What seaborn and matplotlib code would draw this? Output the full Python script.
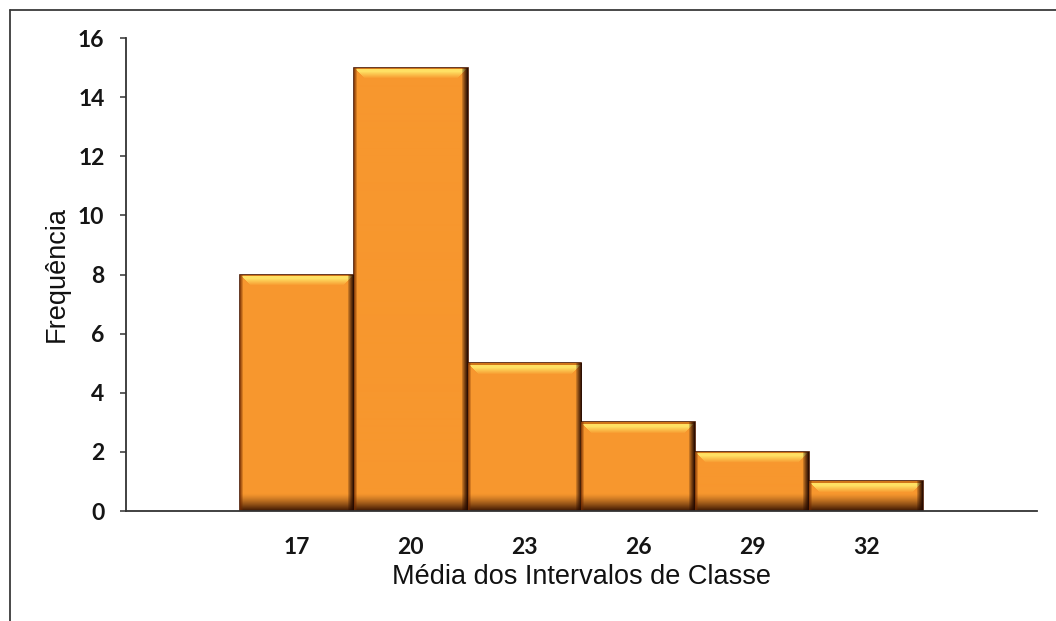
import numpy as np
import pandas as pd
import matplotlib
matplotlib.use("Agg")
import matplotlib.pyplot as plt
from matplotlib.lines import Line2D
import seaborn as sns

# Class midpoints and their frequencies
class_mids = [17, 20, 23, 26, 29, 32]
frequencies = [8, 15, 5, 3, 2, 1]
y_ticks = [0, 2, 4, 6, 8, 10, 12, 14, 16]
x_label = "Média dos Intervalos de Classe"
y_label = "Frequência"

df = pd.DataFrame({"mid": class_mids, "freq": frequencies})

sns.set_theme(style="white")
plt.rcParams["font.family"] = ["Liberation Sans", "DejaVu Sans"]

fig = plt.figure(figsize=(10.56, 6.21), dpi=100)
ax = fig.add_axes([0.1193, 0.1771, 0.8627, 0.7617])

half = (class_mids[1] - class_mids[0]) / 2
edges = [m - half for m in class_mids] + [class_mids[-1] + half]
sns.histplot(data=df, x="mid", weights="freq", bins=edges, ax=ax,
             color="#F7972E", alpha=1.0, edgecolor="#4A1800", linewidth=1.2)

ax.set_xlim(12.5, 36.5)
ax.set_ylim(0, 16)
ax.set_xticks(class_mids)
ax.set_xticklabels([str(m) for m in class_mids])
ax.set_yticks(y_ticks)
ax.set_yticklabels([str(t) for t in y_ticks])

for lab in ax.get_xticklabels() + ax.get_yticklabels():
    lab.set_fontfamily(["Lato", "DejaVu Sans"])
    lab.set_fontweight("bold")
    lab.set_fontsize(16.5)
    lab.set_color("#151515")

ax.tick_params(axis="y", direction="out", length=4.5, width=1.1, color="#333333",
               pad=11, left=True)
ax.tick_params(axis="x", length=0, pad=19)

for side in ["top", "right"]:
    ax.spines[side].set_visible(False)
for side in ["left", "bottom"]:
    ax.spines[side].set_color("#333333")
    ax.spines[side].set_linewidth(1.3)

ax.set_xlabel(x_label, fontsize=19.5, color="#111111")
ax.set_ylabel(y_label, fontsize=19.5, color="#111111")
ax.xaxis.set_label_coords(0.4995, -0.113)
ax.yaxis.set_label_coords(-0.0615, 0.501)


def bevel_image(wpx, hpx):
    """Shaded RGB texture giving a bar a raised, glossy look."""
    base = np.array([247, 151, 46]) / 255.0
    img = np.ones((hpx, wpx, 3)) * base
    rows = np.arange(hpx)[:, None]
    cols = np.arange(wpx)[None, :]

    # bottom shadow
    shade_h = 18
    t = np.clip((rows - (hpx - shade_h)) / shade_h, 0, 1) ** 1.3
    dark = np.array([50, 15, 0]) / 255.0
    img = img * (1 - t[..., None]) + dark * t[..., None]

    # glossy top band with bevelled corners
    hl = np.array([255, 225, 100]) / 255.0
    band = np.where(rows < 2, 0.0, np.clip(1 - (rows - 4) / 7.0, 0, 1))
    band = band * ((cols >= rows) & (cols < wpx - rows))
    top_edge = np.array([200, 110, 20]) / 255.0
    img = img * (1 - band[..., None]) + hl * band[..., None]
    edge_mask = (rows < 2) * np.ones_like(cols)
    img = img * (1 - 0.8 * edge_mask[..., None]) + top_edge * 0.8 * edge_mask[..., None]

    # left edge
    le = np.clip(1 - cols / 3.0, 0, 1) * 0.75 * np.ones_like(rows)
    ldark = np.array([110, 40, 0]) / 255.0
    img = img * (1 - le[..., None]) + ldark * le[..., None]

    # right edge
    re = np.clip(1 - (wpx - 1 - cols) / 6.0, 0, 1) ** 0.8 * 0.95 * np.ones_like(rows)
    rdark = np.array([35, 8, 0]) / 255.0
    img = img * (1 - re[..., None]) + rdark * re[..., None]
    return np.clip(img, 0, 1)


fig.canvas.draw()
for patch in list(ax.patches):
    x0 = patch.get_x()
    w = patch.get_width()
    h = patch.get_height()
    if h <= 0:
        continue
    (px0, py0), (px1, py1) = ax.transData.transform([(x0, 0), (x0 + w, h)])
    wpx = max(int(round(px1 - px0)), 4)
    hpx = max(int(round(py1 - py0)), 4)
    tex = bevel_image(wpx, hpx)
    im = ax.imshow(tex, extent=[x0, x0 + w, 0, h], aspect="auto",
                   interpolation="bilinear", zorder=patch.get_zorder() + 0.1)
    im.set_clip_path(patch)

ax.set_xlim(12.5, 36.5)
ax.set_ylim(0, 16)

# outer chart frame (top and left sides)
fig.add_artist(Line2D([10 / 1056, 1.0], [1 - 10 / 621, 1 - 10 / 621],
                      transform=fig.transFigure, color="#3a3a3a", linewidth=1.3))
fig.add_artist(Line2D([10 / 1056, 10 / 1056], [0, 1 - 10 / 621],
                      transform=fig.transFigure, color="#3a3a3a", linewidth=1.3))

fig.savefig("out.png", dpi=100, facecolor="white")
